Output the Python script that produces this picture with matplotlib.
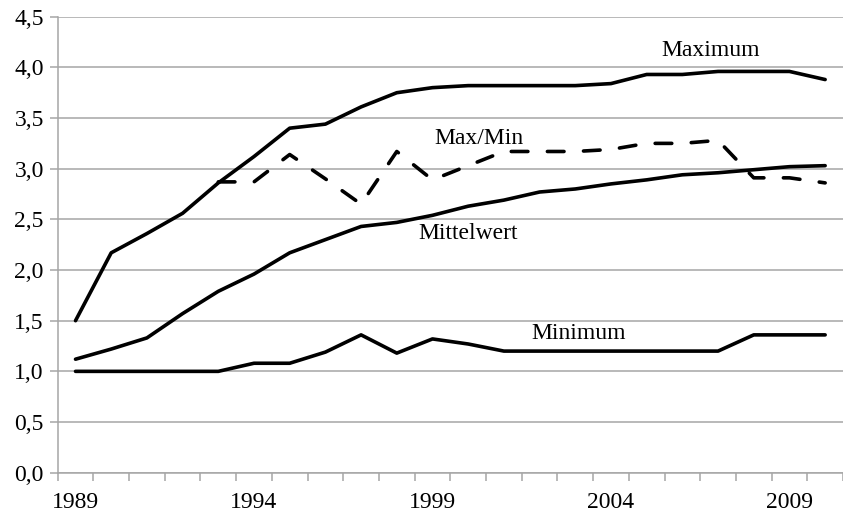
import numpy as np
import matplotlib
matplotlib.use('Agg')
import matplotlib.pyplot as plt

plt.rcParams['font.family'] = ['Liberation Serif', 'DejaVu Serif']

years = list(range(1989, 2011))

maximum = [1.50, 2.17, 2.36, 2.56, 2.86, 3.12, 3.40, 3.44, 3.61, 3.75, 3.80,
           3.82, 3.82, 3.82, 3.82, 3.84, 3.93, 3.93, 3.96, 3.96, 3.96, 3.88]
mittelwert = [1.12, 1.22, 1.33, 1.57, 1.79, 1.96, 2.17, 2.30, 2.43, 2.47, 2.54,
              2.63, 2.69, 2.77, 2.80, 2.85, 2.89, 2.94, 2.96, 2.99, 3.02, 3.03]
minimum = [1.00, 1.00, 1.00, 1.00, 1.00, 1.08, 1.08, 1.19, 1.36, 1.18, 1.32,
           1.27, 1.20, 1.20, 1.20, 1.20, 1.20, 1.20, 1.20, 1.36, 1.36, 1.36]
# Max/Min ratio only from 1993 on
maxmin_years = list(range(1993, 2011))
maxmin = [2.87, 2.87, 3.14, 2.90, 2.65, 3.17, 2.89, 3.03, 3.17, 3.17, 3.17,
          3.19, 3.25, 3.25, 3.28, 2.91, 2.91, 2.86]

ytick_vals = [0.0, 0.5, 1.0, 1.5, 2.0, 2.5, 3.0, 3.5, 4.0, 4.5]
xlabel_years = [1989, 1994, 1999, 2004, 2009]

fig = plt.figure(figsize=(8.43, 5.13), dpi=100)
ax = fig.add_axes([0.0684, 0.0786, 0.9316, 0.8888])

x = np.arange(len(years))
xm = np.array([years.index(y) for y in maxmin_years])

lw = 2.6
ax.plot(x, maximum, color='black', lw=lw, solid_capstyle='round', solid_joinstyle='round', zorder=3)
ax.plot(x, mittelwert, color='black', lw=lw, solid_capstyle='round', solid_joinstyle='round', zorder=3)
ax.plot(x, minimum, color='black', lw=lw, solid_capstyle='round', solid_joinstyle='round', zorder=3)
ax.plot(xm, maxmin, color='black', lw=lw, linestyle=(0, (4.6, 5.4)),
        dash_capstyle='round', dash_joinstyle='round', zorder=3)

fs = 17
ax.text(17.8, 4.17, 'Maximum', fontsize=fs, ha='center', va='center')
ax.text(11.3, 3.30, 'Max/Min', fontsize=fs, ha='center', va='center')
ax.text(11.0, 2.36, 'Mittelwert', fontsize=fs, ha='center', va='center')
ax.text(14.1, 1.376, 'Minimum', fontsize=fs, ha='center', va='center')

ax.set_xlim(-0.5, len(years) - 0.5)
ax.set_ylim(0, 4.5)

gray = '#a6a6a6'
ax.set_yticks(ytick_vals)
ax.set_yticklabels([f'{v:.1f}'.replace('.', ',') for v in ytick_vals])
ax.yaxis.grid(True, color=gray, lw=1.1)
ax.set_axisbelow(True)

ax.set_xticks([years.index(y) for y in xlabel_years])
ax.set_xticklabels([str(y) for y in xlabel_years])
ax.set_xticks(np.arange(-0.5, len(years), 1), minor=True)
ax.tick_params(axis='x', which='major', length=0, labelsize=fs, pad=14)
ax.tick_params(axis='x', which='minor', length=6, color=gray, width=1.1)
ax.tick_params(axis='y', which='major', length=6, color=gray, width=1.1, labelsize=fs, pad=4)

for s in ['top', 'right']:
    ax.spines[s].set_visible(False)
for s in ['left', 'bottom']:
    ax.spines[s].set_color(gray)
    ax.spines[s].set_linewidth(1.1)

fig.savefig('out.png', dpi=100)
